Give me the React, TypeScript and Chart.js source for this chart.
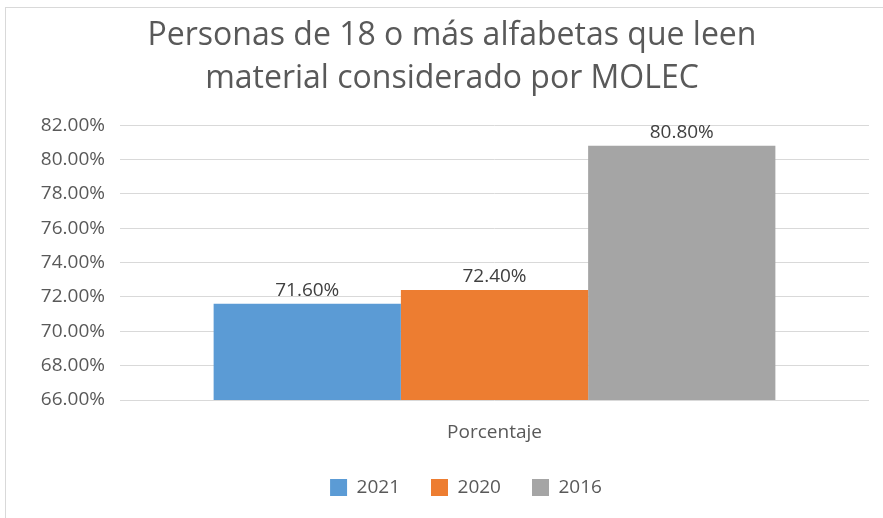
import React, { useEffect, useRef } from "react";
import { Chart, registerables } from "chart.js";

Chart.register(...registerables);

const categories = ["Porcentaje"];
const seriesLabels = ["2021", "2020", "2016"];
const seriesValues = [[71.6], [72.4], [80.8]];
const seriesColors = ["#5B9BD5", "#ED7D31", "#A5A5A5"];
const titleLines = ["Personas de 18 o más alfabetas que leen", "material considerado por MOLEC"];
const yMin = 66;
const yMax = 82;
const yStep = 2;

const FONT = "'Open Sans', 'DejaVu Sans', sans-serif";
const SMALL = 19;

const dataLabelPlugin = {
  id: "dataLabels",
  afterDatasetsDraw(chart: any) {
    const ctx = chart.ctx;
    ctx.save();
    ctx.font = `${SMALL}px ${FONT}`;
    ctx.fillStyle = "#404040";
    ctx.textAlign = "center";
    ctx.textBaseline = "middle";
    chart.data.datasets.forEach((ds: any, i: number) => {
      const meta = chart.getDatasetMeta(i);
      meta.data.forEach((el: any, j: number) => {
        const v = ds.data[j];
        ctx.fillText(v.toFixed(2) + "%", el.x, el.y - 13);
      });
    });
    ctx.restore();
  },
};

const borderPlugin = {
  id: "outerBorder",
  afterLayout(chart: any) {
    if (chart.legend) {
      chart.legend.left += 14;
      chart.legend.right += 14;
    }
  },
  beforeDraw(chart: any) {
    const ctx = chart.ctx;
    ctx.save();
    ctx.fillStyle = "#ffffff";
    ctx.fillRect(0, 0, chart.width, chart.height);
    ctx.strokeStyle = "#d9d9d9";
    ctx.lineWidth = 1;
    ctx.strokeRect(5.5, 7.5, chart.width + 10, chart.height + 10);
    ctx.restore();
  },
};

export default function App() {
  const ref = useRef<HTMLCanvasElement>(null);
  useEffect(() => {
    if (!ref.current) return;
    const chart = new Chart(ref.current, {
      type: "bar",
      data: {
        labels: categories,
        datasets: seriesLabels.map((l, i) => ({
          label: l,
          data: seriesValues[i],
          backgroundColor: seriesColors[i],
          borderWidth: 0,
          categoryPercentage: 0.75,
          barPercentage: 1,
        })),
      },
      options: {
        animation: false,
        responsive: false,
        maintainAspectRatio: false,
        layout: { padding: { top: 15, left: 35, right: 14, bottom: 11 } },
        plugins: {
          title: {
            display: true,
            text: titleLines,
            color: "#595959",
            font: { family: FONT, size: 32, weight: "normal", lineHeight: 1.33 },
            padding: { top: 0, bottom: 25 },
          },
          legend: {
            position: "bottom",
            labels: {
              color: "#595959",
              font: { family: FONT, size: SMALL },
              boxWidth: 17,
              boxHeight: 17,
              padding: 31,
            },
          },
          tooltip: { enabled: false },
        },
        scales: {
          x: {
            grid: { display: false },
            border: { display: false },
            afterFit(scale: any) {
              scale.height = 47;
            },
            ticks: {
              color: "#595959",
              font: { family: FONT, size: SMALL },
              padding: 13,
            },
          },
          y: {
            min: yMin,
            max: yMax,
            afterFit(scale: any) {
              scale.width = 85;
            },
            ticks: {
              stepSize: yStep,
              color: "#595959",
              font: { family: FONT, size: SMALL },
              padding: 15,
              callback: (v: any) => Number(v).toFixed(2) + "%",
            },
            grid: { color: "#d9d9d9", drawTicks: false },
            border: { display: false },
          },
        },
      },
      plugins: [borderPlugin, dataLabelPlugin],
    });
    return () => chart.destroy();
  }, []);
  return (
    <div style={{ position: "fixed", left: 0, top: 0, width: 883, height: 518 }}>
      <canvas ref={ref} width={883} height={518} style={{ display: "block" }} />
    </div>
  );
}
